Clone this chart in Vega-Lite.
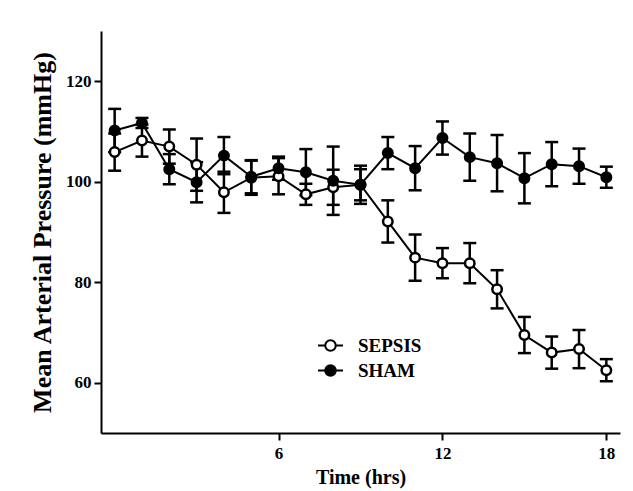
{
  "$schema": "https://vega.github.io/schema/vega-lite/v6.json",
  "width": 519,
  "height": 402,
  "autosize": "none",
  "padding": {"left": 101, "top": 31, "right": 13, "bottom": 58},
  "background": "white",
  "config": {
    "view": {"stroke": null},
    "axis": {
      "grid": false,
      "domainColor": "black",
      "domainWidth": 2,
      "tickColor": "black",
      "tickWidth": 2,
      "tickSize": 7,
      "labelFont": "Liberation Serif",
      "labelFontWeight": "bold",
      "labelFontSize": 17,
      "labelColor": "black",
      "titleFont": "Liberation Serif",
      "titleFontWeight": "bold",
      "titleColor": "black"
    },
    "legend": {
      "labelFont": "Liberation Serif",
      "labelFontWeight": "bold",
      "labelFontSize": 19,
      "labelColor": "black"
    }
  },
  "data": {
    "values": [
      {"t": 0, "group": "SEPSIS", "mean": 105.9, "sem": 3.7},
      {"t": 1, "group": "SEPSIS", "mean": 108.2, "sem": 3.2},
      {"t": 2, "group": "SEPSIS", "mean": 107.0, "sem": 3.4},
      {"t": 3, "group": "SEPSIS", "mean": 103.4, "sem": 5.2},
      {"t": 4, "group": "SEPSIS", "mean": 97.9, "sem": 4.1},
      {"t": 5, "group": "SEPSIS", "mean": 100.8, "sem": 3.4},
      {"t": 6, "group": "SEPSIS", "mean": 101.1, "sem": 3.6},
      {"t": 7, "group": "SEPSIS", "mean": 97.5, "sem": 2.1},
      {"t": 8, "group": "SEPSIS", "mean": 98.9, "sem": 3.5},
      {"t": 9, "group": "SEPSIS", "mean": 99.4, "sem": 3.1},
      {"t": 10, "group": "SEPSIS", "mean": 92.1, "sem": 4.2},
      {"t": 11, "group": "SEPSIS", "mean": 84.9, "sem": 4.6},
      {"t": 12, "group": "SEPSIS", "mean": 83.8, "sem": 3.0},
      {"t": 13, "group": "SEPSIS", "mean": 83.8, "sem": 4.0},
      {"t": 14, "group": "SEPSIS", "mean": 78.6, "sem": 3.8},
      {"t": 15, "group": "SEPSIS", "mean": 69.5, "sem": 3.6},
      {"t": 16, "group": "SEPSIS", "mean": 66.0, "sem": 3.2},
      {"t": 17, "group": "SEPSIS", "mean": 66.7, "sem": 3.8},
      {"t": 18, "group": "SEPSIS", "mean": 62.5, "sem": 2.2},
      {"t": 0, "group": "SHAM", "mean": 110.2, "sem": 4.3},
      {"t": 1, "group": "SHAM", "mean": 111.7, "sem": 1.0},
      {"t": 2, "group": "SHAM", "mean": 102.5, "sem": 3.0},
      {"t": 3, "group": "SHAM", "mean": 99.9, "sem": 4.0},
      {"t": 4, "group": "SHAM", "mean": 105.2, "sem": 3.7},
      {"t": 5, "group": "SHAM", "mean": 101.0, "sem": 3.3},
      {"t": 6, "group": "SHAM", "mean": 102.7, "sem": 2.3},
      {"t": 7, "group": "SHAM", "mean": 101.9, "sem": 4.6},
      {"t": 8, "group": "SHAM", "mean": 100.2, "sem": 6.8},
      {"t": 9, "group": "SHAM", "mean": 99.4, "sem": 3.8},
      {"t": 10, "group": "SHAM", "mean": 105.7, "sem": 3.2},
      {"t": 11, "group": "SHAM", "mean": 102.7, "sem": 4.4},
      {"t": 12, "group": "SHAM", "mean": 108.7, "sem": 3.3},
      {"t": 13, "group": "SHAM", "mean": 104.9, "sem": 4.7},
      {"t": 14, "group": "SHAM", "mean": 103.7, "sem": 5.6},
      {"t": 15, "group": "SHAM", "mean": 100.7, "sem": 5.0},
      {"t": 16, "group": "SHAM", "mean": 103.5, "sem": 4.4},
      {"t": 17, "group": "SHAM", "mean": 103.1, "sem": 3.5},
      {"t": 18, "group": "SHAM", "mean": 100.9, "sem": 2.1}
    ]
  },
  "encoding": {
    "x": {
      "field": "t",
      "type": "quantitative",
      "scale": {"domain": [-0.5, 18.5], "nice": false, "zero": false},
      "axis": {"values": [6, 12, 18], "title": "Time (hrs)", "titleFontSize": 20, "labelPadding": 5, "titlePadding": 6}
    },
    "y": {
      "field": "mean",
      "type": "quantitative",
      "scale": {"domain": [50, 130], "nice": false, "zero": false},
      "axis": {"values": [60, 80, 100, 120], "title": "Mean Arterial Pressure (mmHg)", "titleFontSize": 26, "labelPadding": 3, "titlePadding": 10}
    }
  },
  "layer": [
    {
      "mark": {"type": "line", "color": "black", "strokeWidth": 2},
      "encoding": {"detail": {"field": "group"}}
    },
    {
      "transform": [
        {"calculate": "datum.mean - datum.sem", "as": "lo"},
        {"calculate": "datum.mean + datum.sem", "as": "hi"}
      ],
      "layer": [
        {
          "mark": {"type": "rule", "color": "black", "strokeWidth": 2.5},
          "encoding": {"y": {"field": "lo", "type": "quantitative"}, "y2": {"field": "hi"}}
        },
        {
          "mark": {"type": "tick", "orient": "horizontal", "color": "black", "size": 13, "thickness": 2.5, "opacity": 1},
          "encoding": {"y": {"field": "lo", "type": "quantitative"}}
        },
        {
          "mark": {"type": "tick", "orient": "horizontal", "color": "black", "size": 13, "thickness": 2.5, "opacity": 1},
          "encoding": {"y": {"field": "hi", "type": "quantitative"}}
        }
      ]
    },
    {
      "mark": {"type": "point", "shape": "circle", "filled": true, "stroke": "black", "strokeWidth": 2.5, "size": 90, "opacity": 1},
      "encoding": {
        "fill": {
          "field": "group",
          "type": "nominal",
          "scale": {"domain": ["SEPSIS", "SHAM"], "range": ["white", "black"]},
          "legend": {
            "title": null,
            "orient": "none",
            "legendX": 216,
            "legendY": 301,
            "padding": 0,
            "symbolType": "M-1,0H-0.42M0.42,0H1M-0.42,0A0.42,0.42,0,1,1,0.42,0A0.42,0.42,0,1,1,-0.42,0Z",
            "symbolSize": 625,
            "symbolStrokeWidth": 2,
            "symbolStrokeColor": "black",
            "symbolOpacity": 1,
            "rowPadding": 1,
            "labelOffset": 14
          }
        }
      }
    }
  ]
}
